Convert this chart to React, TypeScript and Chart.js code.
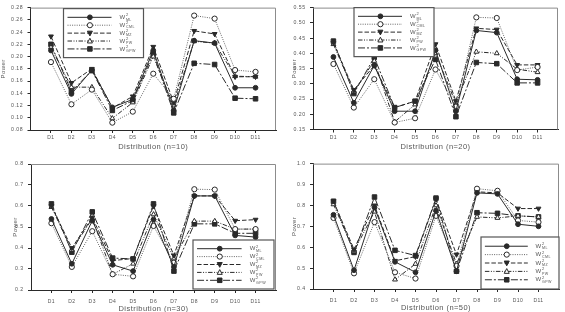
import React, { useEffect, useRef } from 'react';
import { Chart, registerables } from 'chart.js';

Chart.register(...registerables);

const categories = ['D1', 'D2', 'D3', 'D4', 'D5', 'D6', 'D7', 'D8', 'D9', 'D10', 'D11'];
const seriesNames = ['ML', 'CML', 'MZ', 'PW', 'GPW'];

// n = 10
const n10ML = [0.210, 0.139, 0.178, 0.117, 0.130, 0.210, 0.112, 0.226, 0.222, 0.149, 0.149];
const n10CML = [0.191, 0.122, 0.146, 0.092, 0.110, 0.172, 0.131, 0.267, 0.262, 0.178, 0.175];
const n10MZ = [0.233, 0.157, 0.180, 0.116, 0.135, 0.216, 0.125, 0.242, 0.237, 0.167, 0.167];
const n10PW = [0.215, 0.150, 0.150, 0.099, 0.125, 0.200, 0.120, 0.225, 0.222, 0.168, 0.167];
const n10GPW = [0.220, 0.143, 0.177, 0.112, 0.128, 0.205, 0.108, 0.189, 0.187, 0.132, 0.131];

// n = 20
const n20ML = [0.388, 0.238, 0.360, 0.210, 0.210, 0.410, 0.210, 0.475, 0.468, 0.315, 0.313];
const n20CML = [0.365, 0.222, 0.315, 0.173, 0.187, 0.347, 0.225, 0.518, 0.516, 0.345, 0.355];
const n20MZ = [0.435, 0.280, 0.360, 0.222, 0.243, 0.430, 0.243, 0.482, 0.478, 0.362, 0.362];
const n20PW = [0.430, 0.275, 0.375, 0.175, 0.232, 0.400, 0.235, 0.405, 0.400, 0.348, 0.338];
const n20GPW = [0.440, 0.268, 0.387, 0.222, 0.243, 0.380, 0.192, 0.370, 0.366, 0.303, 0.303];

// n = 30
const n30ML = [0.538, 0.325, 0.530, 0.320, 0.290, 0.535, 0.310, 0.648, 0.648, 0.460, 0.452];
const n30CML = [0.518, 0.310, 0.480, 0.275, 0.265, 0.505, 0.330, 0.680, 0.678, 0.490, 0.490];
const n30MZ = [0.600, 0.400, 0.545, 0.340, 0.350, 0.600, 0.365, 0.648, 0.648, 0.530, 0.535];
const n30PW = [0.595, 0.390, 0.540, 0.275, 0.325, 0.560, 0.350, 0.528, 0.528, 0.490, 0.490];
const n30GPW = [0.610, 0.380, 0.572, 0.352, 0.348, 0.610, 0.290, 0.515, 0.515, 0.470, 0.470];

// n = 50
const n50ML = [0.755, 0.490, 0.790, 0.530, 0.480, 0.775, 0.485, 0.860, 0.855, 0.710, 0.700];
const n50CML = [0.740, 0.475, 0.720, 0.480, 0.450, 0.750, 0.510, 0.880, 0.870, 0.728, 0.720];
const n50MZ = [0.820, 0.590, 0.800, 0.535, 0.555, 0.830, 0.565, 0.865, 0.860, 0.785, 0.785];
const n50PW = [0.805, 0.580, 0.770, 0.445, 0.520, 0.800, 0.520, 0.745, 0.740, 0.750, 0.745];
const n50GPW = [0.820, 0.575, 0.840, 0.585, 0.560, 0.835, 0.485, 0.765, 0.762, 0.750, 0.745];

const yTicks10 = { min: 0.08, max: 0.28, step: 0.02, decimals: 2 };
const yTicks20 = { min: 0.15, max: 0.55, step: 0.05, decimals: 2 };
const yTicks30 = { min: 0.2, max: 0.8, step: 0.1, decimals: 1 };
const yTicks50 = { min: 0.4, max: 1.0, step: 0.1, decimals: 1 };

const FONT = "'Liberation Sans', Arial, sans-serif";
const TEXT = '#555';
const INK = '#2a2a2a';

type SeriesStyle = {
  color: string;
  dash: number[];
  pointStyle: string;
  rotation: number;
  fill: boolean;
  radius: number;
};

const styles: SeriesStyle[] = [
  { color: INK, dash: [], pointStyle: 'circle', rotation: 0, fill: true, radius: 2.4 },
  { color: '#666', dash: [1, 1.3], pointStyle: 'circle', rotation: 0, fill: false, radius: 2.6 },
  { color: INK, dash: [4.5, 2], pointStyle: 'triangle', rotation: 180, fill: true, radius: 2.8 },
  { color: INK, dash: [4.5, 1.5, 1, 1.5, 1, 1.5], pointStyle: 'triangle', rotation: 0, fill: false, radius: 2.8 },
  { color: INK, dash: [7, 2, 2, 2], pointStyle: 'rect', rotation: 0, fill: true, radius: 3.2 },
];

type Panel = {
  title: string;
  series: number[][];
  ticks: { min: number; max: number; step: number; decimals: number };
  w: number;
  h: number;
  left: number;
  top: number;
  rightPad: number;
  xAxisH: number;
  xTickPad: number;
  xTitlePad: number;
  yTitlePad: number;
  legend: { corner: 'tl' | 'br'; dx: number; dy: number; w: number; h: number };
  posX: number;
  posY: number;
};

const panels: Panel[] = [
  {
    title: 'Distribution (n=10)', series: [n10ML, n10CML, n10MZ, n10PW, n10GPW], ticks: yTicks10,
    w: 282, h: 156, left: 30.5, top: 4, rightPad: 6, xAxisH: 26, xTickPad: 1.5, xTitlePad: 4.5, yTitlePad: -0.6,
    legend: { corner: 'tl', dx: 33, dy: 1, w: 80, h: 49 }, posX: 0, posY: 0,
  },
  {
    title: 'Distribution (n=20)', series: [n20ML, n20CML, n20MZ, n20PW, n20GPW], ticks: yTicks20,
    w: 283, h: 156, left: 31, top: 4, rightPad: 7, xAxisH: 26.5, xTickPad: 1.7, xTitlePad: 4.8, yTitlePad: 8.4,
    legend: { corner: 'tl', dx: 41, dy: 0, w: 80, h: 49 }, posX: 282, posY: 0,
  },
  {
    title: 'Distribution (n=30)', series: [n30ML, n30CML, n30MZ, n30PW, n30GPW], ticks: yTicks30,
    w: 282, h: 156, left: 31, top: 8, rightPad: 6, xAxisH: 22, xTickPad: 6, xTitlePad: -1.8, yTitlePad: 11.4,
    legend: { corner: 'br', dx: 2, dy: 1, w: 81, h: 49 }, posX: 0, posY: 156,
  },
  {
    title: 'Distribution (n=50)', series: [n50ML, n50CML, n50MZ, n50PW, n50GPW], ticks: yTicks50,
    w: 283, h: 156, left: 31, top: 7, rightPad: 6, xAxisH: 23, xTickPad: 5.5, xTitlePad: -0.2, yTitlePad: 8.9,
    legend: { corner: 'br', dx: 0, dy: 0, w: 78, h: 52 }, posX: 282, posY: 156,
  },
];

function drawMarker(ctx: CanvasRenderingContext2D, s: SeriesStyle, x: number, y: number) {
  const r = s.radius;
  ctx.save();
  ctx.setLineDash([]);
  ctx.lineWidth = 1;
  ctx.strokeStyle = INK;
  ctx.fillStyle = s.fill ? INK : '#fff';
  ctx.beginPath();
  if (s.pointStyle === 'circle') {
    ctx.arc(x, y, r, 0, Math.PI * 2);
  } else if (s.pointStyle === 'triangle') {
    const dir = s.rotation === 180 ? -1 : 1;
    ctx.moveTo(x, y - dir * r);
    ctx.lineTo(x + r * 0.9, y + dir * r * 0.7);
    ctx.lineTo(x - r * 0.9, y + dir * r * 0.7);
    ctx.closePath();
  } else {
    const a = r * Math.SQRT1_2;
    ctx.rect(x - a, y - a, a * 2, a * 2);
  }
  ctx.fill();
  ctx.stroke();
  ctx.restore();
}

const spacingPlugin = {
  id: 'spacing',
  beforeDraw(chart: any) {
    (chart.ctx as any).letterSpacing = '0.45px';
  },
};

const framePlugin = {
  id: 'frameAndLegend',
  afterDraw(chart: any) {
    const { ctx, chartArea: a } = chart;
    const p: Panel = chart.options.plugins.panelInfo;
    ctx.save();
    // top and right frame
    ctx.strokeStyle = '#8c8c8c';
    ctx.lineWidth = 1;
    ctx.beginPath();
    ctx.moveTo(a.left, a.top + 0.5);
    ctx.lineTo(a.right - 0.5, a.top + 0.5);
    ctx.lineTo(a.right - 0.5, a.bottom);
    ctx.stroke();

    // legend box
    const L = p.legend;
    const x = L.corner === 'tl' ? a.left + L.dx : a.right - L.w - L.dx;
    const y = L.corner === 'tl' ? a.top + L.dy : a.bottom - L.h - L.dy;
    ctx.fillStyle = '#fff';
    ctx.fillRect(x, y, L.w, L.h);
    ctx.strokeStyle = '#555';
    ctx.lineWidth = 1.2;
    ctx.strokeRect(x, y, L.w, L.h);
    const gap = L.h / 6.2;
    seriesNames.forEach((name, i) => {
      const s = styles[i];
      const cy = y + (i + 1.1) * gap;
      ctx.save();
      ctx.strokeStyle = s.color;
      ctx.lineWidth = 1;
      ctx.setLineDash(s.dash);
      ctx.beginPath();
      ctx.moveTo(x + L.w * 0.05, cy);
      ctx.lineTo(x + L.w * 0.6, cy);
      ctx.stroke();
      ctx.restore();
      drawMarker(ctx, s, x + L.w * 0.33, cy);
      const tx = x + L.w * 0.7;
      ctx.fillStyle = TEXT;
      ctx.textBaseline = 'middle';
      ctx.textAlign = 'left';
      ctx.font = `6px ${FONT}`;
      ctx.fillText('W', tx, cy);
      const ww = ctx.measureText('W').width;
      ctx.font = `4px ${FONT}`;
      ctx.fillText('2', tx + ww + 0.3, cy - 2.2);
      ctx.font = `3.6px ${FONT}`;
      ctx.fillText(name, tx + ww + 0.3, cy + 2.2);
    });
    ctx.restore();
  },
};

function PanelChart({ p }: { p: Panel }) {
  const ref = useRef<HTMLCanvasElement>(null);
  useEffect(() => {
    if (!ref.current) return;
    const chart = new Chart(ref.current, {
      type: 'line',
      data: {
        datasets: p.series.map((vals, si) => {
          const s = styles[si];
          return {
            label: seriesNames[si],
            data: vals.map((v, i) => ({ x: i + 1, y: v })),
            borderColor: s.color,
            borderWidth: 1,
            borderDash: s.dash,
            pointStyle: s.pointStyle as any,
            rotation: s.rotation,
            pointRadius: s.radius,
            pointBorderWidth: 1,
            pointBorderColor: INK,
            pointBackgroundColor: s.fill ? INK : '#fff',
            tension: 0,
            fill: false,
          };
        }),
      },
      options: {
        animation: false,
        responsive: false,
        maintainAspectRatio: false,
        events: [],
        layout: { padding: { left: 0, top: p.top, right: p.rightPad, bottom: 0 } },
        plugins: {
          legend: { display: false },
          tooltip: { enabled: false },
          panelInfo: p,
        } as any,
        scales: {
          x: {
            type: 'linear',
            min: 0,
            max: categories.length + 1,
            afterBuildTicks: (s: any) => {
              s.ticks = categories.map((_, i) => ({ value: i + 1 }));
            },
            afterFit: (s: any) => {
              s.height = p.xAxisH;
            },
            ticks: {
              callback: (v: any) => categories[Number(v) - 1] ?? '',
              font: { size: 5, family: FONT },
              color: TEXT,
              padding: p.xTickPad,
              autoSkip: false,
              maxRotation: 0,
            },
            grid: { drawOnChartArea: false, drawTicks: true, tickLength: 3, color: INK },
            border: { display: true, color: INK, width: 1 },
            title: {
              display: true,
              text: p.title,
              font: { size: 7.5, family: FONT },
              color: TEXT,
              padding: { top: 0, bottom: p.xTitlePad },
            },
          },
          y: {
            type: 'linear',
            min: p.ticks.min,
            max: p.ticks.max,
            afterFit: (s: any) => {
              s.width = p.left;
            },
            ticks: {
              stepSize: p.ticks.step,
              callback: (v: any) => Number(v).toFixed(p.ticks.decimals),
              font: { size: 5.2, family: FONT },
              color: TEXT,
              padding: 4.5,
            },
            grid: { drawOnChartArea: false, drawTicks: true, tickLength: 3, color: INK },
            border: { display: true, color: INK, width: 1 },
            title: {
              display: true,
              text: 'Power',
              font: { size: 6, family: FONT },
              color: TEXT,
              padding: { top: p.yTitlePad, bottom: 0 },
            },
          },
        },
      },
      plugins: [spacingPlugin, framePlugin],
    });
    return () => chart.destroy();
  }, [p]);
  return (
    <div style={{ position: 'absolute', left: p.posX, top: p.posY, width: p.w, height: p.h }}>
      <canvas ref={ref} width={p.w} height={p.h} style={{ width: p.w, height: p.h, display: 'block' }} />
    </div>
  );
}

export default function App() {
  return (
    <div style={{ position: 'fixed', left: 0, top: 0, width: 565, height: 312, background: '#fff', overflow: 'hidden' }}>
      {panels.map((p, i) => (
        <PanelChart key={i} p={p} />
      ))}
    </div>
  );
}
